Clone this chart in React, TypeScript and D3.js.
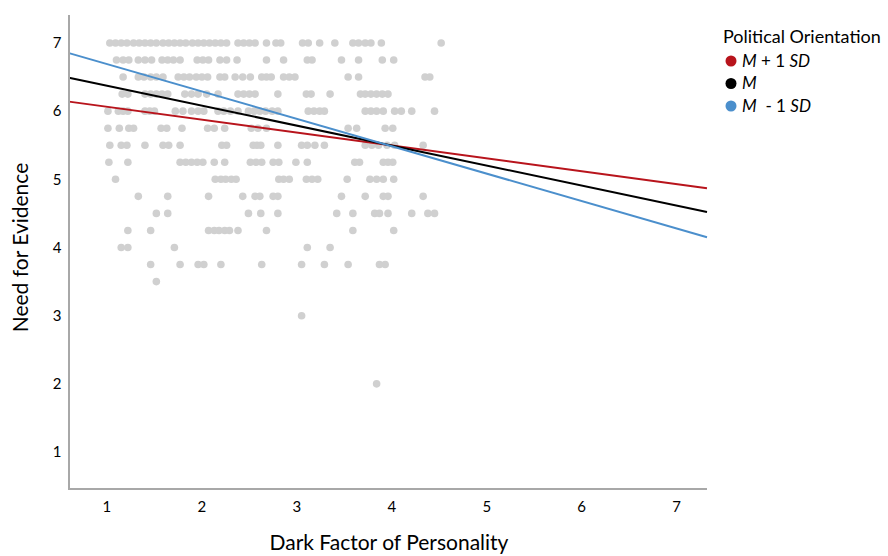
import React from "react";
import * as d3 from "d3";

// Need for Evidence levels (rows of the scatter)
const needLevels: number[] = [7, 6.75, 6.5, 6.25, 6, 5.75, 5.5, 5.25, 5, 4.75, 4.5, 4.25, 4, 3.75, 3.5, 3, 2];

// Dark Factor values observed at each Need-for-Evidence level (same order as needLevels)
const darkFactorRows: number[][] = [
  [1.03, 1.09, 1.15, 1.21, 1.28, 1.34, 1.40, 1.46, 1.52, 1.59, 1.65, 1.71, 1.77, 1.83, 1.90, 1.96, 2.02, 2.08, 2.14, 2.20, 2.26,
    2.38, 2.44, 2.50, 2.56, 2.68, 2.78, 2.83, 3.06, 3.12, 3.24, 3.40, 3.59, 3.65, 3.72, 3.78, 3.89, 4.52],
  [1.10, 1.17, 1.23, 1.33, 1.40, 1.47, 1.58, 1.64, 1.70, 1.77, 1.95, 2.01, 2.07, 2.19, 2.26, 2.37, 2.68, 2.86, 3.11, 3.16, 3.47, 3.65, 3.90, 4.02],
  [1.17, 1.33, 1.39, 1.46, 1.52, 1.59, 1.75, 1.81, 1.87, 1.94, 2.00, 2.06, 2.19, 2.24, 2.35, 2.43, 2.51, 2.63, 2.68, 2.73, 2.86, 2.92, 2.98, 3.54, 3.65, 4.35, 4.40],
  [1.16, 1.22, 1.40, 1.46, 1.52, 1.58, 1.64, 1.82, 1.89, 1.96, 2.05, 2.17, 2.38, 2.44, 2.50, 2.56, 2.80, 3.10, 3.15, 3.35, 3.67, 3.72, 3.78, 3.84, 3.90, 3.96],
  [1.01, 1.12, 1.17, 1.22, 1.40, 1.45, 1.50, 1.72, 1.80, 1.89, 1.96, 2.02, 2.17, 2.23, 2.30, 2.38, 2.49, 2.55, 2.61, 2.67, 2.74, 2.80,
    3.12, 3.18, 3.24, 3.29, 3.72, 3.78, 3.84, 3.91, 4.03, 4.10, 4.21, 4.45],
  [1.01, 1.13, 1.23, 1.28, 1.57, 1.63, 1.79, 2.06, 2.13, 2.24, 2.52, 2.59, 2.68, 3.54, 3.63, 3.93, 4.01],
  [1.03, 1.15, 1.21, 1.40, 1.59, 1.65, 1.77, 2.21, 2.26, 2.54, 2.58, 2.62, 2.80, 3.05, 3.11, 3.19, 3.29, 3.72, 3.79, 3.86, 3.95, 4.03, 4.33],
  [1.02, 1.22, 1.77, 1.83, 1.89, 1.95, 2.01, 2.13, 2.24, 2.51, 2.57, 2.63, 2.75, 2.81, 2.99, 3.11, 3.61, 3.66, 3.91, 3.96, 4.01],
  [1.09, 2.14, 2.20, 2.25, 2.31, 2.36, 2.81, 2.86, 2.92, 3.10, 3.16, 3.22, 3.53, 3.77, 3.84, 3.91, 4.02],
  [1.33, 1.64, 2.07, 2.43, 2.56, 2.61, 2.75, 2.80, 3.47, 3.72, 3.91, 3.96, 4.33],
  [1.52, 1.64, 2.49, 2.62, 2.80, 3.42, 3.59, 3.82, 3.87, 3.96, 4.21, 4.38, 4.45],
  [1.22, 1.46, 2.07, 2.13, 2.18, 2.24, 2.29, 2.38, 2.68, 3.59, 4.02],
  [1.15, 1.22, 1.71, 3.11, 3.35],
  [1.46, 1.77, 1.96, 2.02, 2.20, 2.63, 3.05, 3.29, 3.54, 3.87, 3.93],
  [1.52],
  [3.05],
  [3.84],
];

// Simple slopes: predicted Need for Evidence at Dark Factor = 1 and = 7
const seriesNames: string[] = ["M + 1 SD", "M", "M - 1 SD"];
const predictedAt1: number[] = [6.064, 6.373, 6.69];
const predictedAt7: number[] = [4.93, 4.615, 4.28];
const seriesColors: string[] = ["#b8141c", "#000000", "#4b8fcc"];

const xTicks: number[] = [1, 2, 3, 4, 5, 6, 7];
const yTicks: number[] = [1, 2, 3, 4, 5, 6, 7];

const W = 888;
const H = 556;
const FONT = "Lato, 'Open Sans', sans-serif";

export default function App() {
  const x = d3.scaleLinear().domain([0.6, 7.32]).range([69, 707]);
  const y = d3.scaleLinear().domain([0.458, 7.41]).range([489, 15]);
  const [x0, x1] = x.domain();

  const points: { dx: number; ny: number }[] = [];
  needLevels.forEach((lv, i) => {
    darkFactorRows[i].forEach((v) => points.push({ dx: v, ny: lv }));
  });

  const lineGen = d3
    .line<[number, number]>()
    .x((d) => x(d[0]))
    .y((d) => y(d[1]));

  const lines = seriesNames.map((name, i) => {
    const slope = (predictedAt7[i] - predictedAt1[i]) / 6;
    const f = (v: number) => predictedAt1[i] + slope * (v - 1);
    return { name, color: seriesColors[i], d: lineGen([[x0, f(x0)], [x1, f(x1)]]) || "" };
  });

  const drawOrder = [0, 1, 2];

  const legendLabel = (i: number) => {
    if (i === 0)
      return (
        <>
          <tspan fontStyle="italic">M</tspan>
          <tspan> + 1 </tspan>
          <tspan fontStyle="italic">SD</tspan>
        </>
      );
    if (i === 1) return <tspan fontStyle="italic">M</tspan>;
    return (
      <>
        <tspan fontStyle="italic">M</tspan>
        <tspan xmlSpace="preserve">  - 1 </tspan>
        <tspan fontStyle="italic">SD</tspan>
      </>
    );
  };

  return (
    <svg
      width={W}
      height={H}
      style={{ position: "absolute", left: 0, top: 0, background: "#fff" }}
      fontFamily={FONT}
    >
      <rect x={0} y={0} width={W} height={H} fill="#fff" />
      <g>
        {points.map((p, i) => (
          <circle key={i} cx={x(p.dx)} cy={y(p.ny)} r={3.8} fill="#d0d0d0" />
        ))}
      </g>
      <g>
        {drawOrder.map((i) => (
          <path key={i} d={lines[i].d} stroke={lines[i].color} strokeWidth={2} fill="none" />
        ))}
      </g>
      <line x1={x(x0)} x2={x(x0)} y1={y.range()[1]} y2={y.range()[0] + 1} stroke="#a8a8a8" strokeWidth={2} />
      <line x1={x(x0)} x2={x(x1)} y1={y.range()[0]} y2={y.range()[0]} stroke="#a8a8a8" strokeWidth={2} />
      {yTicks.map((t) => (
        <text key={"y" + t} x={57} y={y(t)} dy="0.35em" textAnchor="middle" fontSize={15} fill="#000">
          {t}
        </text>
      ))}
      {xTicks.map((t) => (
        <text key={"x" + t} x={x(t)} y={507} dy="0.35em" textAnchor="middle" fontSize={15} fill="#000">
          {t}
        </text>
      ))}
      <text
        transform={`translate(21,${y(4)}) rotate(-90)`}
        textAnchor="middle"
        dy="0.35em"
        fontSize={21}
        fill="#000"
      >
        Need for Evidence
      </text>
      <text x={389} y={543} textAnchor="middle" dy="0.35em" fontSize={21} fill="#000">
        Dark Factor of Personality
      </text>
      <text x={723} y={37} dy="0.35em" fontSize={18} fill="#000">
        Political Orientation
      </text>
      {seriesNames.map((n, i) => (
        <g key={n} transform={`translate(0,${61 + i * 22.5})`}>
          <circle cx={731} cy={0} r={5.5} fill={seriesColors[i]} />
          <text x={742} y={0} dy="0.35em" fontSize={17} fill="#000" xmlSpace="preserve">
            {legendLabel(i)}
          </text>
        </g>
      ))}
    </svg>
  );
}
